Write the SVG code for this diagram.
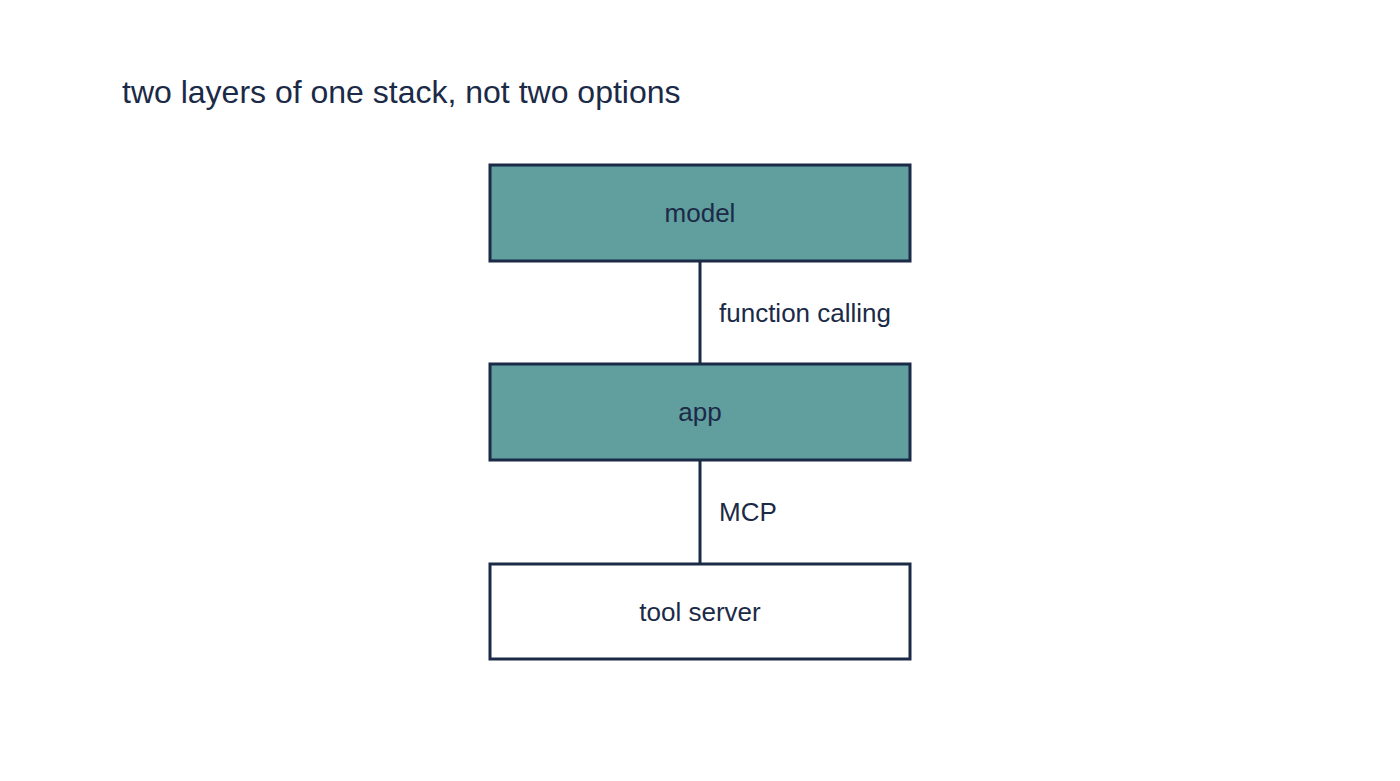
<svg xmlns="http://www.w3.org/2000/svg" width="1400" height="781" viewBox="0 0 1400 781">
<style>
text{font-family:"Liberation Sans",Arial,sans-serif;fill:#1b2a47}
.n{stroke:#1b2a47;stroke-width:3}
.t{fill:#619e9e}
.w{fill:#ffffff}
.l{font-size:26px;text-anchor:middle}
.c{font-size:26px}
</style>
<rect width="1400" height="781" fill="#fff"/>
<text x="122" y="103" font-size="32">two layers of one stack, not two options</text>
<g id="connectors" stroke="#1b2a47" stroke-width="3">
<line x1="700" y1="261" x2="700" y2="364"/>
<line x1="700" y1="460" x2="700" y2="564"/>
</g>
<g id="model"><rect class="n t" x="490" y="165" width="420" height="96"/><text class="l" x="700" y="222">model</text></g>
<g id="app"><rect class="n t" x="490" y="364" width="420" height="96"/><text class="l" x="700" y="421">app</text></g>
<g id="tool-server"><rect class="n w" x="490" y="564" width="420" height="95"/><text class="l" x="700" y="621">tool server</text></g>
<text class="c" x="719" y="322">function calling</text>
<text class="c" x="719" y="521">MCP</text>
</svg>
